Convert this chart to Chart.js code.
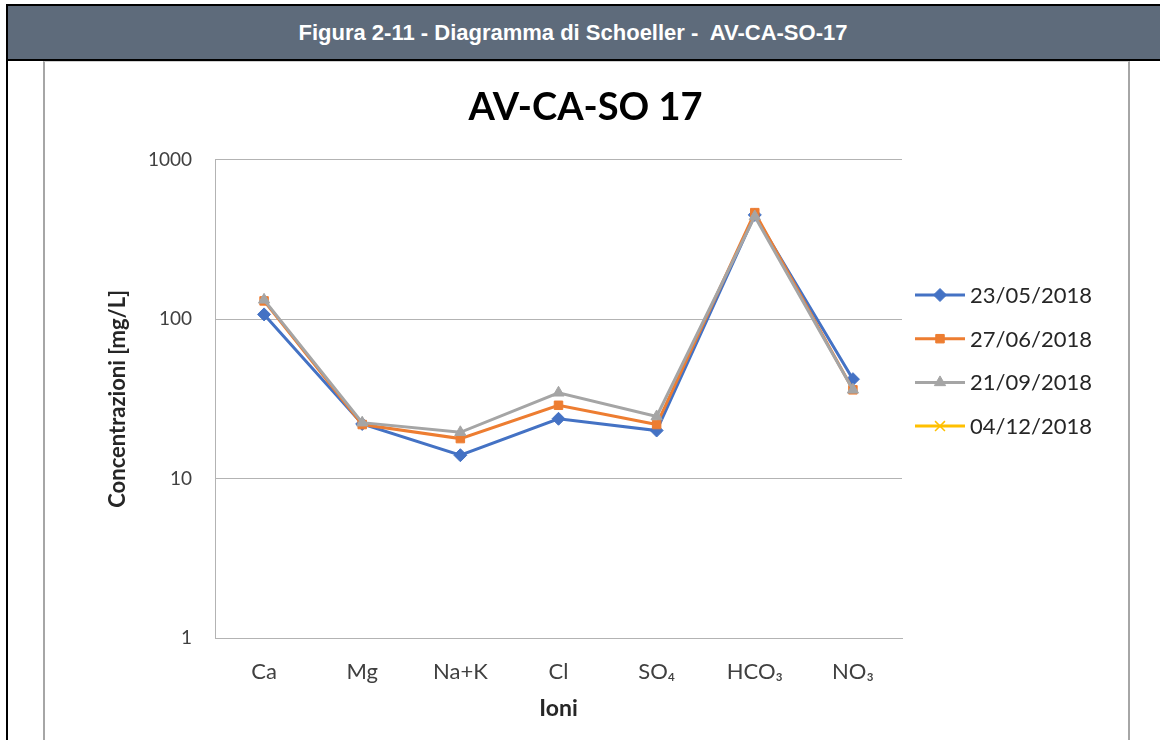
<!DOCTYPE html>
<html>
<head>
<meta charset="utf-8">
<script src="https://cdn.jsdelivr.net/npm/chart.js@4"></script>
<style>
  body { margin: 0; background: #fff; width: 1160px; height: 740px; overflow: hidden; position: relative; }
  #header {
    position: absolute; left: 6px; top: 4px; width: 1160px; height: 53px;
    background: #5e6b7b; border-top: 2px solid #000; border-left: 2px solid #000; border-bottom: 2px solid #000;
    color: #fff; font: bold 22px "Liberation Sans", Arial, sans-serif;
    text-align: center; line-height: 53px; box-sizing: content-box;
  }
  #header span { position: relative; left: -15px; }
  #leftline { position: absolute; left: 6px; top: 4px; width: 2px; height: 740px; background: #000; }
  #box {
    position: absolute; left: 43px; top: 61px; width: 1083px; height: 690px;
    border-left: 2px solid #a6a6a6; border-right: 2px solid #a6a6a6; border-top: 1px solid #d0d0d0;
  }
  #wrap { position: absolute; left: 44px; top: 62px; width: 1083px; height: 678px; }
</style>
</head>
<body>
<div id="header"><span>Figura 2-11 - Diagramma di Schoeller -&nbsp; AV-CA-SO-17</span></div>
<div id="leftline"></div>
<div id="box"></div>
<div id="wrap"><canvas id="myChart"></canvas></div>
<script>
const ioni = ["Ca", "Mg", "Na+K", "Cl", "SO\u2084", "HCO\u2083", "NO\u2083"];
const date1 = "23/05/2018";
const date2 = "27/06/2018";
const date3 = "21/09/2018";
const date4 = "04/12/2018";
const conc1 = [107, 22, 14, 23.7, 20, 450, 42];
const conc2 = [130, 21.8, 17.8, 28.8, 21.8, 465, 36];
const conc3 = [132, 22.4, 19.5, 34.5, 24.5, 440, 36];
const conc4 = [null, null, null, null, null, null, null];
const yTicks = [1, 10, 100, 1000];

const font = "Lato, 'Open Sans', sans-serif";

function serie(label, data, color, style, radius, order) {
  return {
    label: label,
    data: data,
    borderColor: color,
    backgroundColor: color,
    borderWidth: 3,
    pointStyle: style,
    pointRadius: radius,
    pointHoverRadius: radius,
    pointBorderWidth: style == "crossRot" ? 1.5 : 1,
    order: order,
    tension: 0,
  };
}

// legend like excel: line with the marker in the middle
const excelLegend = {
  id: "excelLegend",
  afterDraw(chart) {
    const ctx = chart.ctx;
    const area = chart.chartArea;
    const x0 = area.right + 13;
    let y = 233;
    chart.data.datasets.forEach((ds) => {
      ctx.save();
      ctx.strokeStyle = ds.borderColor;
      ctx.lineWidth = 3;
      ctx.beginPath();
      ctx.moveTo(x0, y);
      ctx.lineTo(x0 + 50, y);
      ctx.stroke();
      ctx.fillStyle = ds.backgroundColor;
      ctx.strokeStyle = ds.borderColor;
      ctx.lineWidth = ds.pointBorderWidth;
      Chart.helpers.drawPoint(ctx, { pointStyle: ds.pointStyle, radius: ds.pointRadius, borderWidth: ds.pointBorderWidth, rotation: 0 }, x0 + 25, y);
      ctx.fillStyle = "#262626";
      ctx.font = "22px " + font;
      ctx.textBaseline = "middle";
      ctx.textAlign = "left";
      ctx.fillText(ds.label, x0 + 55, y + 1);
      ctx.restore();
      y += 43.7;
    });
  },
};

let chart = new Chart(document.getElementById("myChart"), {
  type: "line",
  data: {
    labels: ioni,
    datasets: [
      serie(date1, conc1, "#4472C4", "rectRot", 6.5, 3),
      serie(date2, conc2, "#ED7D31", "rect", 6, 2),
      serie(date3, conc3, "#A5A5A5", "triangle", 6.5, 1),
      serie(date4, conc4, "#FFC000", "crossRot", 7, 0),
    ],
  },
  options: {
    responsive: true,
    maintainAspectRatio: false,
    animation: false,
    layout: { padding: 0 },
    plugins: {
      legend: { display: false },
      tooltip: { enabled: false },
      title: {
        display: true,
        text: "AV-CA-SO 17",
        color: "#000",
        font: { family: font, size: 38, weight: "bold" },
        padding: { top: 23, bottom: 29 },
      },
    },
    scales: {
      x: {
        type: "category",
        offset: true,
        grid: { display: false, drawTicks: false },
        border: { display: true, color: "#b3b3b3", width: 1 },
        ticks: { color: "#404040", font: { family: font, size: 22 }, padding: 21, maxRotation: 0 },
        title: { display: true, text: "Ioni", color: "#262626", font: { family: font, size: 23, weight: "bold" }, padding: { top: 0, bottom: 18 } },
        afterFit(scale) { scale.height = 102; },
      },
      y: {
        type: "logarithmic",
        min: 1,
        max: 1000,
        afterBuildTicks(scale) { scale.ticks = yTicks.map((v) => ({ value: v })); },
        grid: { color: "#b3b3b3", lineWidth: 1, drawTicks: false },
        border: { display: true, color: "#b3b3b3", width: 1 },
        ticks: { color: "#404040", font: { family: font, size: 19 }, padding: 23, callback: (v) => String(v) },
        title: { display: true, text: "Concentrazioni [mg/L]", color: "#262626", font: { family: font, size: 22, weight: "bold" }, padding: { top: 61, bottom: 0 } },
        afterFit(scale) { scale.width = 171; },
      },
      // empty space on the right for the legend
      legendSpace: {
        type: "linear",
        position: "right",
        grid: { display: false, drawTicks: false },
        border: { display: false },
        ticks: { display: false },
        afterFit(scale) { scale.width = 225; },
      },
    },
  },
  plugins: [excelLegend],
});
</script>
</body>
</html>
